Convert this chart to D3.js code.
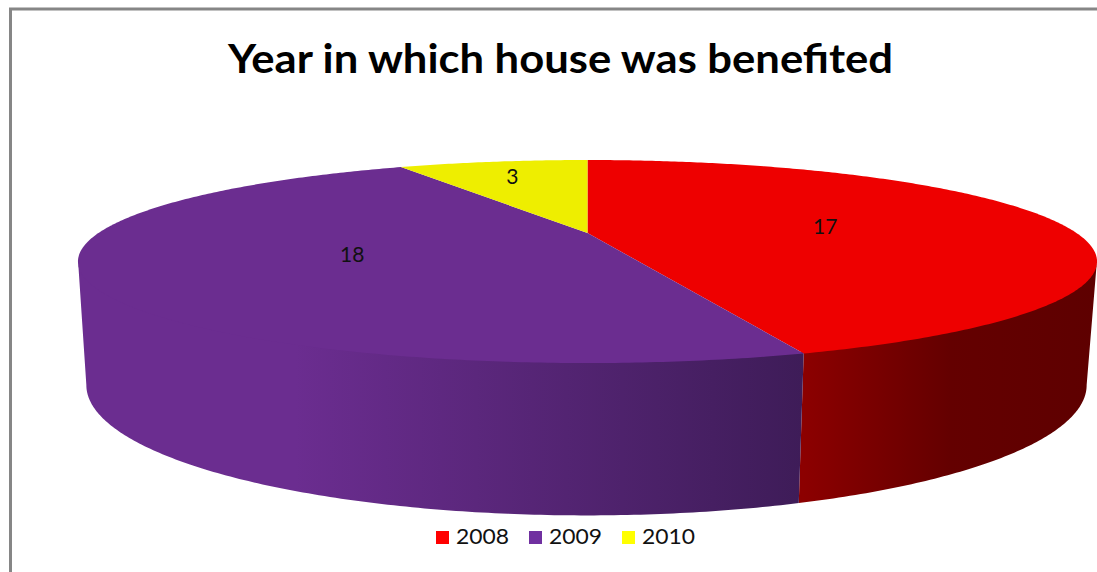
<!DOCTYPE html>
<html><head><meta charset="utf-8">
<script src="https://cdn.jsdelivr.net/npm/d3@7/dist/d3.min.js"></script>
<style>html,body{margin:0;padding:0;background:#fff;overflow:hidden}svg{display:block}text{font-family:Lato,"Open Sans",sans-serif}</style>
</head><body><svg id="c" width="1097" height="572"></svg>
<script>
const title = "Year in which house was benefited";
const categories = ["2008","2009","2010"];
const values = [17,18,3];
const topColors = ["#ee0000","#6b2d90","#eeee00"];
const legendColors = ["#ff0000","#7030a0","#ffff00"];
const labelRadius = [0.5,0.5,0.78];

const svg = d3.select("#c");
const persp = 0.281;
const topPlane = {cx:587.5, cy:233, dx:489, dy:93.5};
const wallTop = {cx:587.5, cy:231, dx:489, dy:93.5};
const botPlane = {cx:586.5, cy:348.5, dx:480, dy:120};
const project = (p,a,r=1) => {
  const u=r*Math.sin(a), v=r*Math.cos(a), w=1+persp*v;
  return [p.cx+p.dx*u/w, p.cy-p.dy*v/w];
};
const arcs = d3.pie().sort(null).startAngle(0).endAngle(2*Math.PI)(values);
const line = d3.line();
const sample = (a0,a1) => { const n=Math.max(2,Math.ceil(Math.abs(a1-a0)/0.01)); return d3.range(n+1).map(i=>a0+(a1-a0)*i/n); };

const defs = svg.append("defs");
const wallGrad = (id,x1,x2,stops) => {
  const g = defs.append("linearGradient").attr("id",id).attr("gradientUnits","userSpaceOnUse")
    .attr("x1",x1).attr("x2",x2).attr("y1",0).attr("y2",0);
  stops.forEach(s=>g.append("stop").attr("offset",s[0]).attr("stop-color",s[1]));
};
wallGrad("wall0",803,1097,[[0,"#8c0000"],[0.5,"#640000"],[1,"#5e0000"]]);
wallGrad("wall1",78,803,[[0,"#6b2d90"],[0.3,"#6b2d90"],[1,"#3e1c58"]]);

// frame: left and top edges only
svg.append("path").attr("d",line([[10.5,572],[10.5,9],[1097,9]]))
  .attr("fill","none").attr("stroke","#868686").attr("stroke-width",3);

// visible side walls (tucked slightly under the top face so no seam shows)
const tangent = Math.acos(-persp);
const wallRange = [[tangent,arcs[0].endAngle],[arcs[0].endAngle,2*Math.PI-tangent]];
wallRange.forEach((r,i)=>{
  const as = sample(r[0],r[1]);
  const pts = as.map(a=>project(wallTop,a)).concat(as.slice().reverse().map(a=>project(botPlane,a)));
  svg.append("path").attr("d",line(pts)+"Z").attr("fill",`url(#wall${i})`);
});

// top face slices
arcs.forEach((d,i)=>{
  const pts = [project(topPlane,0,0)].concat(sample(d.startAngle,d.endAngle).map(a=>project(topPlane,a)));
  svg.append("path").attr("d",line(pts)+"Z").attr("fill",topColors[i]);
});

// data labels
arcs.forEach((d,i)=>{
  const p = project(topPlane,(d.startAngle+d.endAngle)/2,labelRadius[i]);
  svg.append("text").attr("x",p[0]+2).attr("y",p[1]+9).attr("text-anchor","middle")
    .attr("font-size",21).attr("fill","#111").text(values[i]);
});

// title
svg.append("text").attr("x",228).attr("y",73).attr("font-size",41).attr("font-weight",700)
  .attr("fill","#000").attr("textLength",665).attr("lengthAdjust","spacingAndGlyphs").text(title);

// legend
const legendX = d3.scalePoint().domain(categories).range([436,622]);
categories.forEach((c,i)=>{
  const x = legendX(c);
  svg.append("rect").attr("x",x).attr("y",531).attr("width",13).attr("height",13).attr("fill",legendColors[i]);
  svg.append("text").attr("x",x+20).attr("y",544).attr("font-size",21).attr("fill","#111")
    .attr("textLength",53).attr("lengthAdjust","spacingAndGlyphs").text(c);
});
</script></body></html>
